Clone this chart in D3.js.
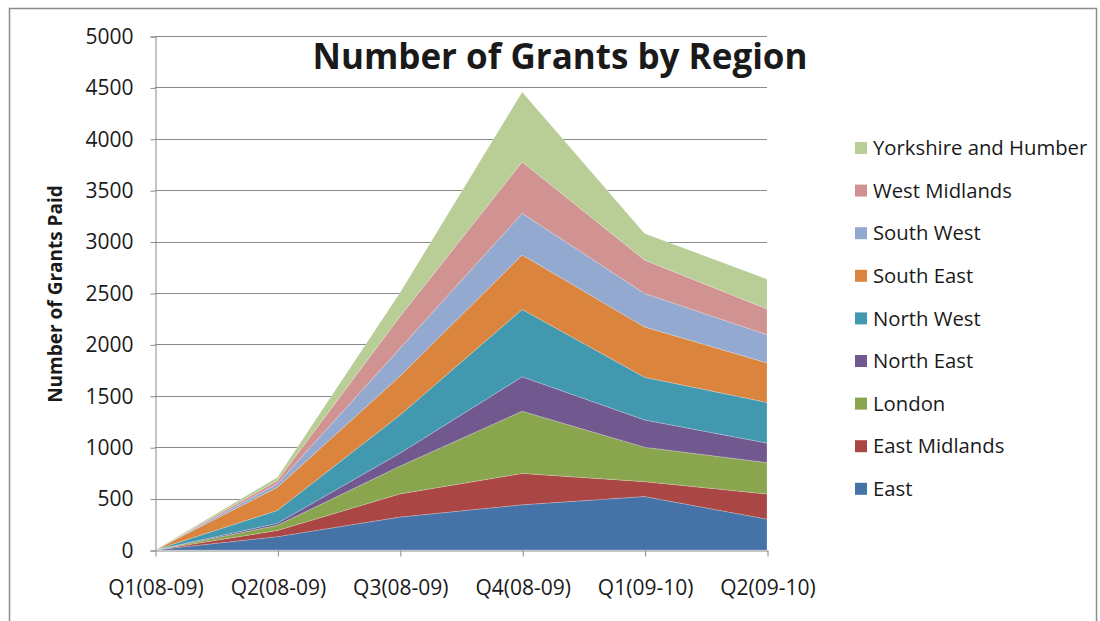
<!DOCTYPE html>
<html>
<head>
<meta charset="utf-8">
<script src="https://cdn.jsdelivr.net/npm/d3@7"></script>
<style>
  html, body { margin: 0; padding: 0; background: #fff; }
  svg { display: block; }
  text { font-family: "Open Sans", "Noto Sans", sans-serif; fill: #1a1a1a; }
</style>
</head>
<body>
<svg id="chart" width="1100" height="621"></svg>
<script>
const categories = ["Q1(08-09)", "Q2(08-09)", "Q3(08-09)", "Q4(08-09)", "Q1(09-10)", "Q2(09-10)"];
const regions = ["East", "East Midlands", "London", "North East", "North West", "South East", "South West", "West Midlands", "Yorkshire and Humber"];
const east            = [0, 130, 320, 440, 520, 300];
const eastMidlands    = [0, 60, 225, 305, 145, 245];
const london          = [0, 50, 270, 605, 335, 305];
const northEast       = [0, 20, 125, 335, 265, 190];
const northWest       = [0, 125, 370, 655, 415, 395];
const southEast       = [0, 225, 380, 530, 490, 385];
const southWest       = [0, 35, 270, 405, 325, 275];
const westMidlands    = [0, 30, 310, 500, 325, 250];
const yorkshire       = [0, 32, 230, 680, 260, 290];
const yTicks = [0, 500, 1000, 1500, 2000, 2500, 3000, 3500, 4000, 4500, 5000];
const colors = ["#4572A7", "#AA4643", "#89A54E", "#71588F", "#4198AF", "#DB843D", "#93A9CF", "#D19392", "#B9CD96"];

const seriesValues = [east, eastMidlands, london, northEast, northWest, southEast, southWest, westMidlands, yorkshire];
const table = categories.map((c, i) => {
  const row = { category: c };
  regions.forEach((r, j) => { row[r] = seriesValues[j][i]; });
  return row;
});

const svg = d3.select("#chart");

// outer frame
svg.append("rect").attr("x", 9.5).attr("y", 8.5).attr("width", 1087).attr("height", 640)
  .attr("fill", "none").attr("stroke", "#8c8c8c").attr("stroke-width", 1.5);

const x = d3.scalePoint().domain(categories).range([155, 767]);
const y = d3.scaleLinear().domain([0, 5000]).range([550, 36]);
const color = d3.scaleOrdinal().domain(regions).range(colors);

// gridlines
svg.append("g").selectAll("line").data(yTicks.filter(d => d > 0)).join("line")
  .attr("x1", 155).attr("x2", 767)
  .attr("y1", d => Math.round(y(d)) + 0.5).attr("y2", d => Math.round(y(d)) + 0.5)
  .attr("stroke", "#8a8a8a").attr("stroke-width", 1);

// stacked areas
const stack = d3.stack().keys(regions);
const layers = stack(table);
const area = d3.area()
  .x(d => x(d.data.category))
  .y0(d => y(d[0]))
  .y1(d => y(d[1]))
  .curve(d3.curveLinear);

svg.append("g").selectAll("path").data(layers).join("path")
  .attr("d", area)
  .attr("fill", d => color(d.key))
  .attr("stroke", "#ffffff").attr("stroke-opacity", 0.35).attr("stroke-width", 0.6);

// y axis
const yAxis = d3.axisLeft(y).tickValues(yTicks).tickSize(5).tickPadding(17).tickFormat(d3.format("d"));
const gy = svg.append("g").attr("transform", "translate(155.5,0.5)").call(yAxis);
gy.select(".domain").attr("stroke", "#8a8a8a");
gy.selectAll(".tick line").attr("stroke", "#8a8a8a");
gy.selectAll(".tick text").attr("font-size", 21).attr("font-family", "Open Sans").attr("fill", "#1a1a1a");

// x axis
const xAxis = d3.axisBottom(x).tickSize(6).tickPadding(24).tickSizeOuter(0);
const gx = svg.append("g").attr("transform", "translate(0.5,550.5)").call(xAxis);
gx.select(".domain").attr("stroke", "#8a8a8a");
gx.selectAll(".tick line").attr("stroke", "#8a8a8a");
gx.selectAll(".tick text").attr("font-size", 21).attr("font-family", "Open Sans").attr("fill", "#1a1a1a");

// title
svg.append("text").attr("x", 560).attr("y", 69).attr("text-anchor", "middle")
  .attr("font-size", 35).attr("font-weight", "bold").attr("fill", "#000")
  .text("Number of Grants by Region");

// y axis title
svg.append("text").attr("transform", "translate(62,294) rotate(-90)").attr("text-anchor", "middle")
  .attr("font-size", 19).attr("font-weight", "bold").attr("fill", "#000")
  .text("Number of Grants Paid");

// legend
const legendOrder = regions.slice().reverse();
const lg = svg.append("g").selectAll("g").data(legendOrder).join("g")
  .attr("transform", (d, i) => `translate(855,${148 + i * 42.6})`);
lg.append("rect").attr("x", 0).attr("y", -6).attr("width", 12).attr("height", 12)
  .attr("fill", d => color(d));
lg.append("text").attr("x", 18).attr("y", 0).attr("dy", "0.35em")
  .attr("font-size", 20.3).attr("fill", "#1a1a1a").text(d => d);
</script>
</body>
</html>
